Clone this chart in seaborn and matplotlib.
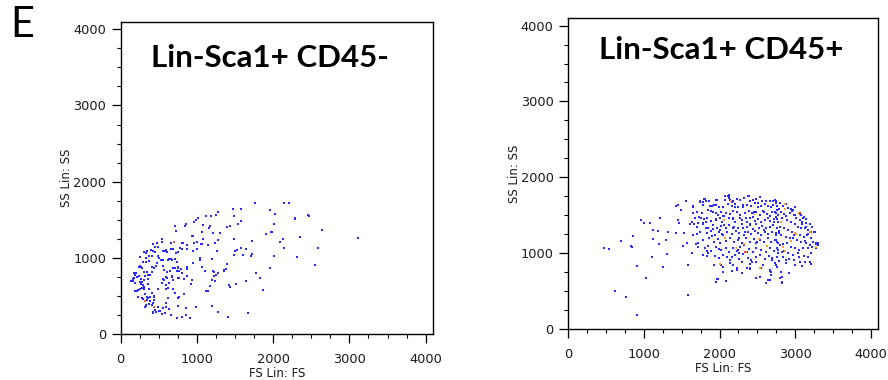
import pandas as pd
import matplotlib.pyplot as plt
import matplotlib.ticker as mticker
import seaborn as sns

sns.set_style('ticks')
plt.rcParams['font.family'] = ['DejaVu Sans']

# --- events (FS, SS) ---
left_blue = [
    (1768, 1719), (2148, 1719), (2214, 1719), (1471, 1640), (1572, 1640), (1956, 1623), (2030, 1575),
    (1271, 1605), (1244, 1562), (1179, 1544), (1118, 1544), (1009, 1527), (987, 1492), (960, 1465),
    (851, 1448), (843, 1422), (716, 1422), (729, 1356), (1074, 1435), (1170, 1417), (1157, 1387),
    (1489, 1544), (1541, 1448), (1572, 1483), (1388, 1400), (1432, 1417), (2017, 1448), (2284, 1527),
    (2292, 1505), (2458, 1566), (2471, 1549), (2637, 1369), (3118, 1260), (2354, 1277), (1969, 1339),
    (1982, 1339), (1912, 1308), (2135, 1242), (2083, 1207), (2017, 1024), (2148, 1129), (2306, 1006),
    (2589, 1133), (2554, 910), (1956, 862), (1781, 801), (1830, 735), (1873, 582), (1668, 280),
    (1402, 219), (1432, 613), (1415, 643), (1511, 656), (1642, 691), (1725, 1221), (1480, 1247),
    (1720, 1050), (1712, 1028), (1646, 1111), (1598, 1041), (1572, 1124), (1532, 1098), (1498, 1094),
    (1480, 1037), (1397, 923), (1358, 844), (1384, 853), (1275, 1229), (1257, 1089), (1231, 1190),
    (1306, 1326), (1205, 1326), (1065, 1339), (1074, 1251), (1048, 1186), (1061, 1181), (1140, 1172),
    (1000, 1207), (965, 1199), (943, 1291), (930, 1282), (869, 1168), (873, 1116), (799, 1199),
    (812, 1199), (777, 1129), (746, 1072), (803, 1111), (725, 1059), (685, 1111), (659, 1190),
    (655, 1120), (655, 984), (716, 984), (672, 971), (629, 984), (620, 971), (594, 1107), (607, 1081),
    (581, 1094), (550, 1089), (541, 1207), (546, 1247), (476, 1199), (493, 1142), (450, 1146),
    (428, 1085), (450, 1072), (419, 1177), (397, 1102), (375, 1019), (406, 1028), (371, 954),
    (327, 1002), (305, 1081), (340, 1094), (332, 1063), (327, 945), (288, 945), (249, 1006),
    (236, 879), (262, 884), (253, 897), (279, 862), (310, 818), (340, 818), (314, 757), (358, 779),
    (384, 770), (410, 818), (415, 875), (441, 871), (463, 897), (471, 936), (506, 997), (493, 1028),
    (528, 976), (554, 971), (559, 893), (572, 836), (602, 814), (572, 709), (611, 735), (646, 823),
    (677, 761), (690, 871), (712, 871), (733, 831), (746, 871), (733, 941), (751, 884), (764, 831),
    (795, 849), (808, 805), (768, 739), (746, 735), (829, 718), (869, 875), (864, 849), (930, 709),
    (926, 652), (952, 932), (1070, 875), (1035, 976), (1039, 993), (947, 1094), (1004, 1116),
    (1100, 827), (1201, 984), (1214, 831), (1218, 814), (1227, 757), (1249, 774), (1196, 709),
    (1240, 696), (1174, 630), (1148, 569), (1118, 564), (1275, 801), (1354, 831), (873, 766),
    (829, 525), (760, 481), (746, 468), (681, 595), (629, 674), (594, 643), (598, 591), (624, 468),
    (594, 407), (594, 355), (559, 341), (637, 328), (655, 250), (585, 271), (546, 263), (502, 306),
    (515, 306), (450, 315), (428, 289), (419, 280), (436, 354), (415, 381), (319, 359), (327, 372),
    (340, 446), (349, 486), (358, 468), (384, 481), (436, 490), (436, 451), (428, 411), (388, 433),
    (375, 398), (332, 381), (297, 459), (275, 477), (231, 481), (188, 560), (209, 564), (231, 573),
    (253, 586), (275, 599), (305, 621), (288, 648), (270, 661), (279, 678), (253, 683), (192, 674),
    (157, 691), (140, 691), (166, 718), (179, 731), (209, 744), (236, 766), (192, 774), (179, 796),
    (205, 796), (266, 722), (301, 709), (353, 722), (362, 661), (310, 595), (314, 525), (375, 591),
    (410, 534), (432, 503), (441, 481), (485, 591), (537, 665), (559, 722), (594, 744), (668, 753),
    (690, 709), (624, 608), (712, 538), (751, 363), (733, 215), (799, 228), (851, 250), (908, 215),
    (991, 355), (1192, 368), (1275, 289), (860, 341), (463, 293), (493, 359),
]
left_red = [(703, 1207), (323, 438), (432, 359)]

right_blue = [
    # sparse tail and outer shell
    (467, 1074), (538, 1056), (692, 1166), (824, 1100), (841, 1087), (855, 1232), (903, 832),
    (617, 502), (758, 423), (903, 185), (1027, 678), (961, 1439), (1000, 1404), (1075, 1391),
    (1106, 946), (1124, 1307), (1124, 1184), (1181, 1298), (1194, 1122), (1216, 1470), (1247, 819),
    (1295, 1171), (1304, 995), (1322, 1281), (1419, 1267), (1423, 1619), (1445, 1641), (1454, 1435),
    (1463, 1395), (1485, 1571), (1533, 1267), (1511, 1091), (1555, 1685), (1577, 841), (1564, 1140),
    (1581, 449), (1630, 999), (1643, 1523), (1648, 1619), (1630, 1408), (1661, 1386), (1709, 1391),
    (1696, 1259), (1718, 1131), (1744, 1677), (1775, 1677), (1797, 1716), (1819, 1690), (1758, 1465),
    (1780, 1400), (1815, 1408), (1819, 1333), (1828, 1034), (1841, 959), (1846, 1091), (1872, 1619),
    (1885, 1562), (1894, 1228), (1916, 1325), (1929, 1641), (1947, 1523), (1947, 1448), (1964, 1703),
    (1969, 656), (1987, 1052), (2013, 1303), (2017, 849), (2031, 1250), (2039, 1408), (2053, 1369),
    (2062, 1496), (2075, 1751), (2092, 629), (2119, 1769), (2132, 1729), (2167, 1677), (2163, 946),
    (2176, 1461), (2185, 1333), (2211, 1615), (2233, 810), (2247, 1043), (2255, 999), (2264, 1206),
    (2291, 739), (2313, 1637), (2321, 1109), (2339, 1281), (2357, 1012), (2387, 1751), (2401, 1382),
    (2405, 788), (2427, 885), (2445, 1483), (2453, 1536), (2480, 673), (2493, 1153), (2506, 1659),
    (2533, 973), (2541, 1734), (2550, 801), (2572, 1562), (2590, 1307), (2621, 603), (2643, 647),
    (2674, 770), (2700, 933), (2709, 1694), (2722, 1452), (2740, 1536), (2753, 1171), (2771, 1008),
    (2788, 1272), (2828, 687), (2832, 603), (2841, 1624), (2854, 1034), (2876, 1646), (2885, 911),
    (2920, 735), (2956, 1558), (2982, 1241), (3004, 1509), (3048, 946), (3061, 1518), (3088, 1382),
    (3105, 1461), (3127, 1166), (3149, 1351), (3176, 1250), (3198, 1276), (3202, 885), (3215, 858),
    (3237, 1149), (3273, 1122), (3281, 1074), (3308, 1131), (3250, 1285),
    # dense core, left half
    (2128, 1760), (2110, 1747), (2070, 1756), (2079, 1703), (2145, 1703), (2172, 1690), (2225, 1716),
    (2269, 1703), (2330, 1725), (2379, 1747), (2401, 1690), (2445, 1703), (2489, 1716), (2542, 1734),
    (2568, 1690), (2612, 1681), (2665, 1690), (2731, 1703), (2744, 1659), (1802, 1716), (1819, 1690),
    (1740, 1681), (1863, 1694), (1960, 1703),
    (1652, 1615), (1784, 1637), (1894, 1628), (1951, 1637), (1996, 1602), (2048, 1615), (2114, 1646),
    (2159, 1628), (2203, 1646), (2247, 1615), (2313, 1602), (2357, 1637), (2423, 1628), (2467, 1659),
    (2511, 1615), (2555, 1628), (2599, 1646), (2643, 1628), (2687, 1602), (2709, 1637), (2762, 1628),
    (2788, 1584),
    (1696, 1549), (1762, 1527), (1850, 1571), (1916, 1540), (1982, 1505), (2026, 1549), (2084, 1527),
    (2136, 1514), (2181, 1558), (2233, 1540), (2277, 1505), (2335, 1527), (2392, 1558), (2436, 1527),
    (2454, 1514), (2489, 1549), (2533, 1505), (2586, 1540), (2630, 1514), (2665, 1496), (2700, 1549),
    (2744, 1527), (2775, 1505), (1731, 1483), (2048, 1496),
    (1630, 1417), (1674, 1461), (1793, 1452), (1837, 1470), (1881, 1426), (1951, 1443), (2013, 1461),
    (2062, 1439), (2128, 1461), (2172, 1448), (2203, 1417), (2269, 1461), (2304, 1439), (2348, 1461),
    (2365, 1408), (2401, 1470), (2467, 1426), (2511, 1452), (2555, 1408), (2599, 1439), (2643, 1461),
    (2674, 1426), (2718, 1408), (2762, 1452), (1608, 1382),
    (1696, 1351), (1784, 1382), (1850, 1329), (1916, 1373), (1969, 1338), (2026, 1364), (2084, 1329),
    (2128, 1373), (2189, 1351), (2247, 1338), (2291, 1382), (2313, 1329), (2357, 1351), (2401, 1373),
    (2445, 1320), (2489, 1382), (2524, 1338), (2568, 1364), (2612, 1329), (2665, 1351), (2709, 1373),
    (2762, 1338),
    (1652, 1241), (1740, 1285), (1828, 1263), (1881, 1294), (1938, 1241), (1996, 1276), (2048, 1241),
    (2101, 1285), (2159, 1250), (2216, 1294), (2260, 1263), (2321, 1241), (2379, 1285), (2423, 1250),
    (2467, 1294), (2511, 1263), (2555, 1241), (2599, 1285), (2643, 1250), (2700, 1276), (2744, 1241),
    (2788, 1294),
    (1687, 1118), (1784, 1175), (1863, 1197), (1925, 1153), (1982, 1188), (2013, 1131), (2084, 1162),
    (2136, 1197), (2189, 1144), (2247, 1175), (2304, 1131), (2348, 1197), (2401, 1153), (2454, 1188),
    (2489, 1131), (2542, 1175), (2586, 1144), (2643, 1197), (2687, 1153), (2731, 1175), (2775, 1131),
    (1630, 999), (1718, 1087), (1806, 1065), (1881, 1030), (1951, 1087), (2026, 1043), (2092, 1074),
    (2128, 1021), (2181, 1065), (2233, 1030), (2277, 1087), (2392, 1056), (2445, 1021), (2489, 1074),
    (2555, 1043), (2612, 1021), (2665, 1065), (2718, 1030), (2762, 1074),
    (1784, 977), (1850, 999), (1938, 968), (1996, 933), (2048, 977), (2101, 955), (2136, 911),
    (2203, 977), (2260, 924), (2313, 986), (2379, 942), (2423, 911), (2489, 955), (2542, 977),
    (2599, 924), (2656, 968), (2700, 911), (2762, 955),
    (1925, 845), (2048, 823), (2136, 867), (2172, 845), (2225, 779), (2291, 880), (2357, 810),
    (2401, 854), (2489, 880), (2577, 845), (2665, 779), (2687, 748), (2731, 867),
    (2048, 748), (2159, 766), (2291, 735), (2401, 801), (2489, 678), (2533, 691), (1982, 660),
    (1960, 625), (2643, 647), (2665, 647), (2621, 603), (2687, 713),
    # dense core, right edge
    (2753, 1690), (2797, 1659), (2841, 1628), (2907, 1593), (2942, 1584), (2973, 1571), (3004, 1602),
    (3075, 1505), (3119, 1483), (3149, 1452), (2766, 1571), (2810, 1549), (2854, 1514), (2885, 1496),
    (2929, 1527), (2986, 1505), (3017, 1461), (3061, 1439), (3092, 1417), (3149, 1395), (3193, 1382),
    (3224, 1351), (3259, 1285), (2753, 1483), (2775, 1417), (2828, 1461), (2898, 1439), (2951, 1417),
    (3004, 1382), (3039, 1351), (3083, 1338), (3136, 1329), (3171, 1307), (3215, 1285), (2797, 1351),
    (2854, 1329), (2907, 1307), (2960, 1285), (3061, 1241), (3119, 1219), (3163, 1241), (3207, 1197),
    (3237, 1153), (3282, 1131), (3304, 1109), (2753, 1263), (2819, 1241), (2885, 1219), (2929, 1197),
    (2973, 1206), (3030, 1175), (3083, 1153), (3149, 1131), (3193, 1109), (2766, 1153), (2797, 1109),
    (2841, 1118), (2898, 1131), (2942, 1087), (2995, 1065), (3048, 1043), (3105, 1065), (3171, 1074),
    (3224, 1087), (3282, 1074), (2775, 1043), (2828, 1021), (2907, 999), (2973, 977), (3039, 999),
    (3119, 968), (3207, 999), (2841, 955), (2916, 924), (2986, 911), (3061, 889), (3136, 880),
    (3207, 854), (2784, 898), (2885, 867), (3004, 845), (3092, 836), (2766, 823), (2810, 757),
    (2916, 735), (2797, 678), (2828, 616), (3171, 955), (2744, 845),
]
right_orange = [
    (2066, 1206), (2321, 1118), (2524, 1188), (2348, 1012), (2216, 1065), (2634, 1100), (2013, 854),
    (2542, 801), (2863, 1646), (3048, 1527), (3004, 1263), (2872, 1030), (2951, 1162), (2841, 1087),
    (2819, 1417), (2158, 1681), (3008, 1254), (3281, 1087), (3193, 1276), (2863, 1580), (2458, 1514),
    (2062, 1439),
]
right_red = [(2343, 1010), (3061, 1527)]

titles = ['Lin-Sca1+ CD45-', 'Lin-Sca1+ CD45+']


def to_df(points):
    return pd.DataFrame(points, columns=['FS', 'SS'])


fig = plt.figure(figsize=(8.88, 3.8), dpi=100)
ax1 = fig.add_axes([0.1359, 0.1211, 0.3517, 0.8210])
ax2 = fig.add_axes([0.6400, 0.1342, 0.3487, 0.8176])

layers = [
    (ax1, [(left_blue, '#2a2aff'), (left_red, '#ff5050')]),
    (ax2, [(right_blue, '#2a2aff'), (right_orange, '#ffa030'), (right_red, '#ff3030')]),
]

for ax, groups in layers:
    for pts, col in groups:
        sns.scatterplot(data=to_df(pts), x='FS', y='SS', ax=ax, color=col,
                        marker='s', s=3, linewidth=0, legend=False)
    ax.set_xlim(0, 4096)
    ax.set_ylim(0, 4096)
    ax.xaxis.set_major_locator(mticker.MultipleLocator(1000))
    ax.yaxis.set_major_locator(mticker.MultipleLocator(1000))
    ax.xaxis.set_minor_locator(mticker.MultipleLocator(250))
    ax.yaxis.set_minor_locator(mticker.MultipleLocator(250))
    ax.tick_params(which='major', direction='out', length=6.5, width=0.9, labelsize=9.3,
                   color='black', labelcolor='#1a1a1a')
    ax.tick_params(which='minor', direction='out', length=3, width=0.8, color='black')
    ax.tick_params(axis='x', which='major', pad=7)
    ax.tick_params(axis='y', which='major', pad=4)
    for sp in ax.spines.values():
        sp.set_visible(True)
        sp.set_color('black')
        sp.set_linewidth(1.0)
    ax.set_xlabel('FS Lin: FS', fontsize=8.5, color='#1a1a1a')
    ax.set_ylabel('SS Lin: SS', fontsize=8.5, color='#1a1a1a')
    ax.xaxis.set_label_coords(0.5, -0.106)
    ax.yaxis.set_label_coords(-0.153, 0.5)

fig.text(0.3035, 0.847, titles[0], fontsize=22.5, fontweight='bold', family=['Lato', 'DejaVu Sans'],
         color='black', ha='center', va='center')
fig.text(0.812, 0.868, titles[1], fontsize=22.5, fontweight='bold', family=['Lato', 'DejaVu Sans'],
         color='black', ha='center', va='center')
fig.text(0.0253, 0.934, 'E', fontsize=30, family=['Lato', 'DejaVu Sans'], color='black',
         ha='center', va='center')

fig.savefig('out.png', dpi=100)
